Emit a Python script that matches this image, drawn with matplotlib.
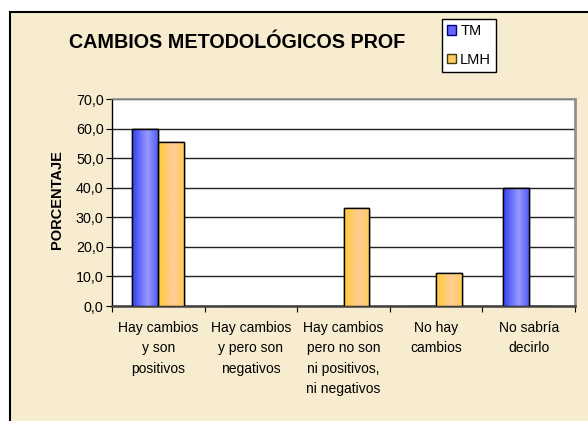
import numpy as np
import matplotlib
matplotlib.use("Agg")
import matplotlib.pyplot as plt
from matplotlib.patches import Rectangle, Patch
from matplotlib.ticker import FuncFormatter

categories = ["Hay cambios\ny son\npositivos",
              "Hay cambios\ny pero son\nnegativos",
              "Hay cambios\npero no son\nni positivos,\nni negativos",
              "No hay\ncambios",
              "No sabría\ndecirlo"]
tm_values = [60.0, 0.0, 0.0, 0.0, 40.0]
lmh_values = [55.6, 0.0, 33.3, 11.1, 0.0]
series_names = ["TM", "LMH"]
y_ticks = [0, 10, 20, 30, 40, 50, 60, 70]
title = "CAMBIOS METODOLÓGICOS PROF"
y_label = "PORCENTAJE"

plt.rcParams['font.family'] = ['Liberation Sans', 'DejaVu Sans']

W, H = 588, 421
fig = plt.figure(figsize=(W / 100, H / 100), dpi=100, facecolor="white")

# chart area background (parchment) with black border
bg = Rectangle((10 / W, -0.05), 1.2, 1 - 12 / H + 0.05, transform=fig.transFigure,
               facecolor="#F8ECD0", edgecolor="black", linewidth=1.5, zorder=-10)
fig.patches.append(bg)

ax = fig.add_axes([112 / W, 1 - 306 / H, (575 - 112) / W, (306 - 99.3) / H])
ax.set_facecolor("white")

x = np.arange(len(categories))
bw = 0.28

def gradient_bar(ax, bars, dark, light):
    for b in bars:
        h = b.get_height()
        if h <= 0:
            continue
        x0, w = b.get_x(), b.get_width()
        t = np.linspace(0, 1, 64)
        wgt = np.clip(1 - np.abs(t - 0.6) / 0.6, 0, 1)
        dark_a = np.array(dark)
        light_a = np.array(light)
        cols = dark_a[None, :] * (1 - wgt[:, None]) + light_a[None, :] * wgt[:, None]
        img = cols[None, :, :]
        im = ax.imshow(img, extent=(x0, x0 + w, 0, h), aspect="auto",
                       zorder=3, interpolation="bilinear")
        im.set_clip_path(b)

tm_bars = ax.bar(x - bw / 2, tm_values, bw, facecolor=(0.4, 0.4, 1.0),
                 edgecolor="black", linewidth=1.0, zorder=2)
lmh_bars = ax.bar(x + bw / 2, lmh_values, bw, facecolor=(1.0, 0.8, 0.4),
                  edgecolor="black", linewidth=1.0, zorder=2)
gradient_bar(ax, tm_bars, (0.2, 0.25, 0.95), (0.6, 0.6, 1.0))
gradient_bar(ax, lmh_bars, (1.0, 0.8, 0.2), (1.0, 0.8, 0.6))
for b in list(tm_bars) + list(lmh_bars):
    if b.get_height() > 0:
        r = Rectangle((b.get_x(), 0), b.get_width(), b.get_height(),
                      facecolor="none", edgecolor="black", linewidth=1.0, zorder=4)
        ax.add_patch(r)

ax.set_xlim(-0.5, len(categories) - 0.5)
ax.set_ylim(0, 70)
ax.set_yticks(y_ticks)
ax.yaxis.set_major_formatter(FuncFormatter(lambda v, p: f"{v:.1f}".replace(".", ",")))
ax.yaxis.grid(True, color="#222222", linewidth=1.0, zorder=1)
ax.set_axisbelow(True)

ax.set_xticks(np.arange(-0.5, len(categories)), labels=[""] * (len(categories) + 1))
ax.set_xticks(x, labels=categories, minor=True)
ax.tick_params(axis="x", which="major", length=4, direction="out", color="black")
ax.tick_params(axis="x", which="minor", length=0, pad=11, labelsize=10)
ax.tick_params(axis="y", length=4, direction="out", labelsize=10.3, pad=2)
for lab in ax.get_xticklabels(minor=True):
    lab.set_linespacing(1.56)
    lab.set_horizontalalignment("center")
    lab.set_verticalalignment("top")

ax.spines["left"].set_color("black")
ax.spines["left"].set_linewidth(1.0)
ax.spines["bottom"].set_color("#404040")
ax.spines["bottom"].set_linewidth(1.8)
ax.spines["top"].set_color("#909090")
ax.spines["top"].set_linewidth(1.2)
ax.spines["right"].set_color("#909090")
ax.spines["right"].set_linewidth(2.0)

fig.text(57 / W, 1 - 200 / H, y_label, rotation=90, fontsize=10.5, fontweight="bold",
         ha="center", va="center")
fig.text(237 / W, 1 - 42.5 / H, title, fontsize=14.2, fontweight="bold",
         ha="center", va="center")

handles = [Patch(facecolor=(0.4, 0.4, 1.0), edgecolor="#000080", linewidth=1.0),
           Patch(facecolor=(1.0, 0.8, 0.4), edgecolor="#404000", linewidth=1.0)]
leg = fig.legend(handles, series_names, loc="upper left",
                 bbox_to_anchor=(442 / W, 1 - 19 / H), fontsize=10.5,
                 frameon=True, fancybox=False, edgecolor="black", facecolor="white",
                 framealpha=1, handlelength=0.6, handleheight=0.6, handletextpad=0.3,
                 labelspacing=1.0, borderpad=0.35, borderaxespad=0)
leg.get_frame().set_linewidth(1.0)

fig.savefig("out.png", dpi=100, facecolor="white")
